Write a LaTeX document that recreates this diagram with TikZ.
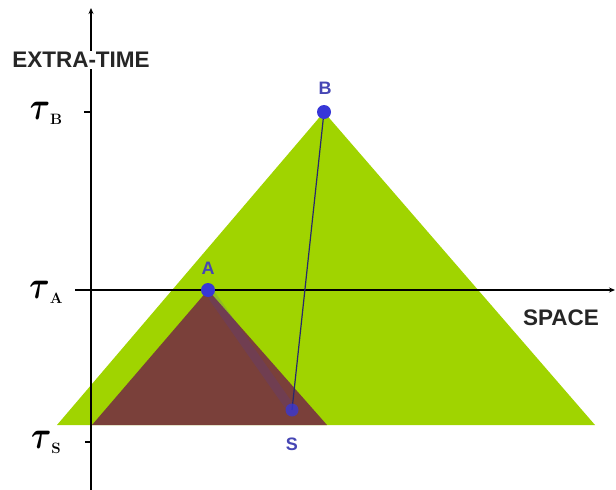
\documentclass[tikz,border=0pt]{standalone}
\usepackage{fontspec}
\setsansfont{Liberation Sans}
\usepackage{amsmath}
\usetikzlibrary{arrows.meta}
\definecolor{limeg}{RGB}{160,212,0}
\definecolor{brownx}{RGB}{122,64,58}
\definecolor{dotblue}{RGB}{55,55,215}
\definecolor{lineblue}{RGB}{40,40,110}
\definecolor{lblblue}{RGB}{70,70,180}
\tikzset{
  axis/.style={draw=black, line width=1.8pt, -{Stealth[length=6pt,width=5pt]}},
  tickmark/.style={draw=black, line width=1.2pt},
  dot/.style={circle, fill=dotblue, inner sep=0pt, minimum size=14pt},
  sdot/.style={circle, fill=dotblue, inner sep=0pt, minimum size=13pt, opacity=0.75},
  ptlabel/.style={font=\sffamily\bfseries\fontsize{18}{18}\selectfont, text=lblblue, inner sep=0pt},
  axlabel/.style={font=\sffamily\bfseries\fontsize{22.5}{22.5}\selectfont, text=black!85, inner sep=1pt},
  taulabel/.style={inner sep=0pt, anchor=base}
}
\newcommand{\taulbl}[1]{\scalebox{3.1}[3.9]{$\boldsymbol{\tau}$}\raisebox{-5pt}{\fontsize{15}{15}\selectfont\bfseries #1}}
\begin{document}
\begin{tikzpicture}[x=1pt,y=-1pt]
\useasboundingbox (0,0) rectangle (616,490);
% key points
\coordinate (pA) at (208,290);
\coordinate (pB) at (324,112);
\coordinate (pS) at (292,410);
\coordinate (gL) at (57,425);
\coordinate (gR) at (595,425);
\coordinate (bL) at (92,425);
\coordinate (bR) at (327,425);
% light cones
\fill[limeg] (gL) -- (pB) -- (gR) -- cycle;
\fill[brownx] (bL) -- (pA) -- (bR) -- cycle;
\draw[dotblue, line width=9pt, opacity=0.15, line cap=round] (pA) -- (pS);
% axes
\coordinate (yb) at (91,490);
\coordinate (yt) at (91,8);
\coordinate (xl) at (75,290);
\coordinate (xr) at (615,290);
\draw[axis] (yb) -- (yt);
\draw[axis] (xl) -- (xr);
\coordinate (tB1) at (84,112); \coordinate (tB2) at (91,112);
\coordinate (tS1) at (85,442); \coordinate (tS2) at (91,442);
\draw[tickmark] (tB1) -- (tB2);
\draw[tickmark] (tS1) -- (tS2);
% axis labels
\node[axlabel, fill=white] (ylab) at (81,60) {EXTRA-TIME};
\node[axlabel] (xlab) at (561,318) {SPACE};
% tau labels
\node[taulabel] (tauB) at (46,119) {\taulbl{B}};
\node[taulabel] (tauA) at (46,298) {\taulbl{A}};
\node[taulabel] (tauS) at (46,448) {\taulbl{S}};
% worldline
\draw[lineblue, line width=1.2pt] (pB) -- (pS);
% events
\node[sdot] (S) at (pS) {};
\node[dot] (A) at (pA) {};
\node[dot] (B) at (pB) {};
\node[ptlabel] (lA) at (208,268) {A};
\node[ptlabel] (lB) at (325,88) {B};
\node[ptlabel] (lS) at (292,444) {S};
\end{tikzpicture}
\end{document}
